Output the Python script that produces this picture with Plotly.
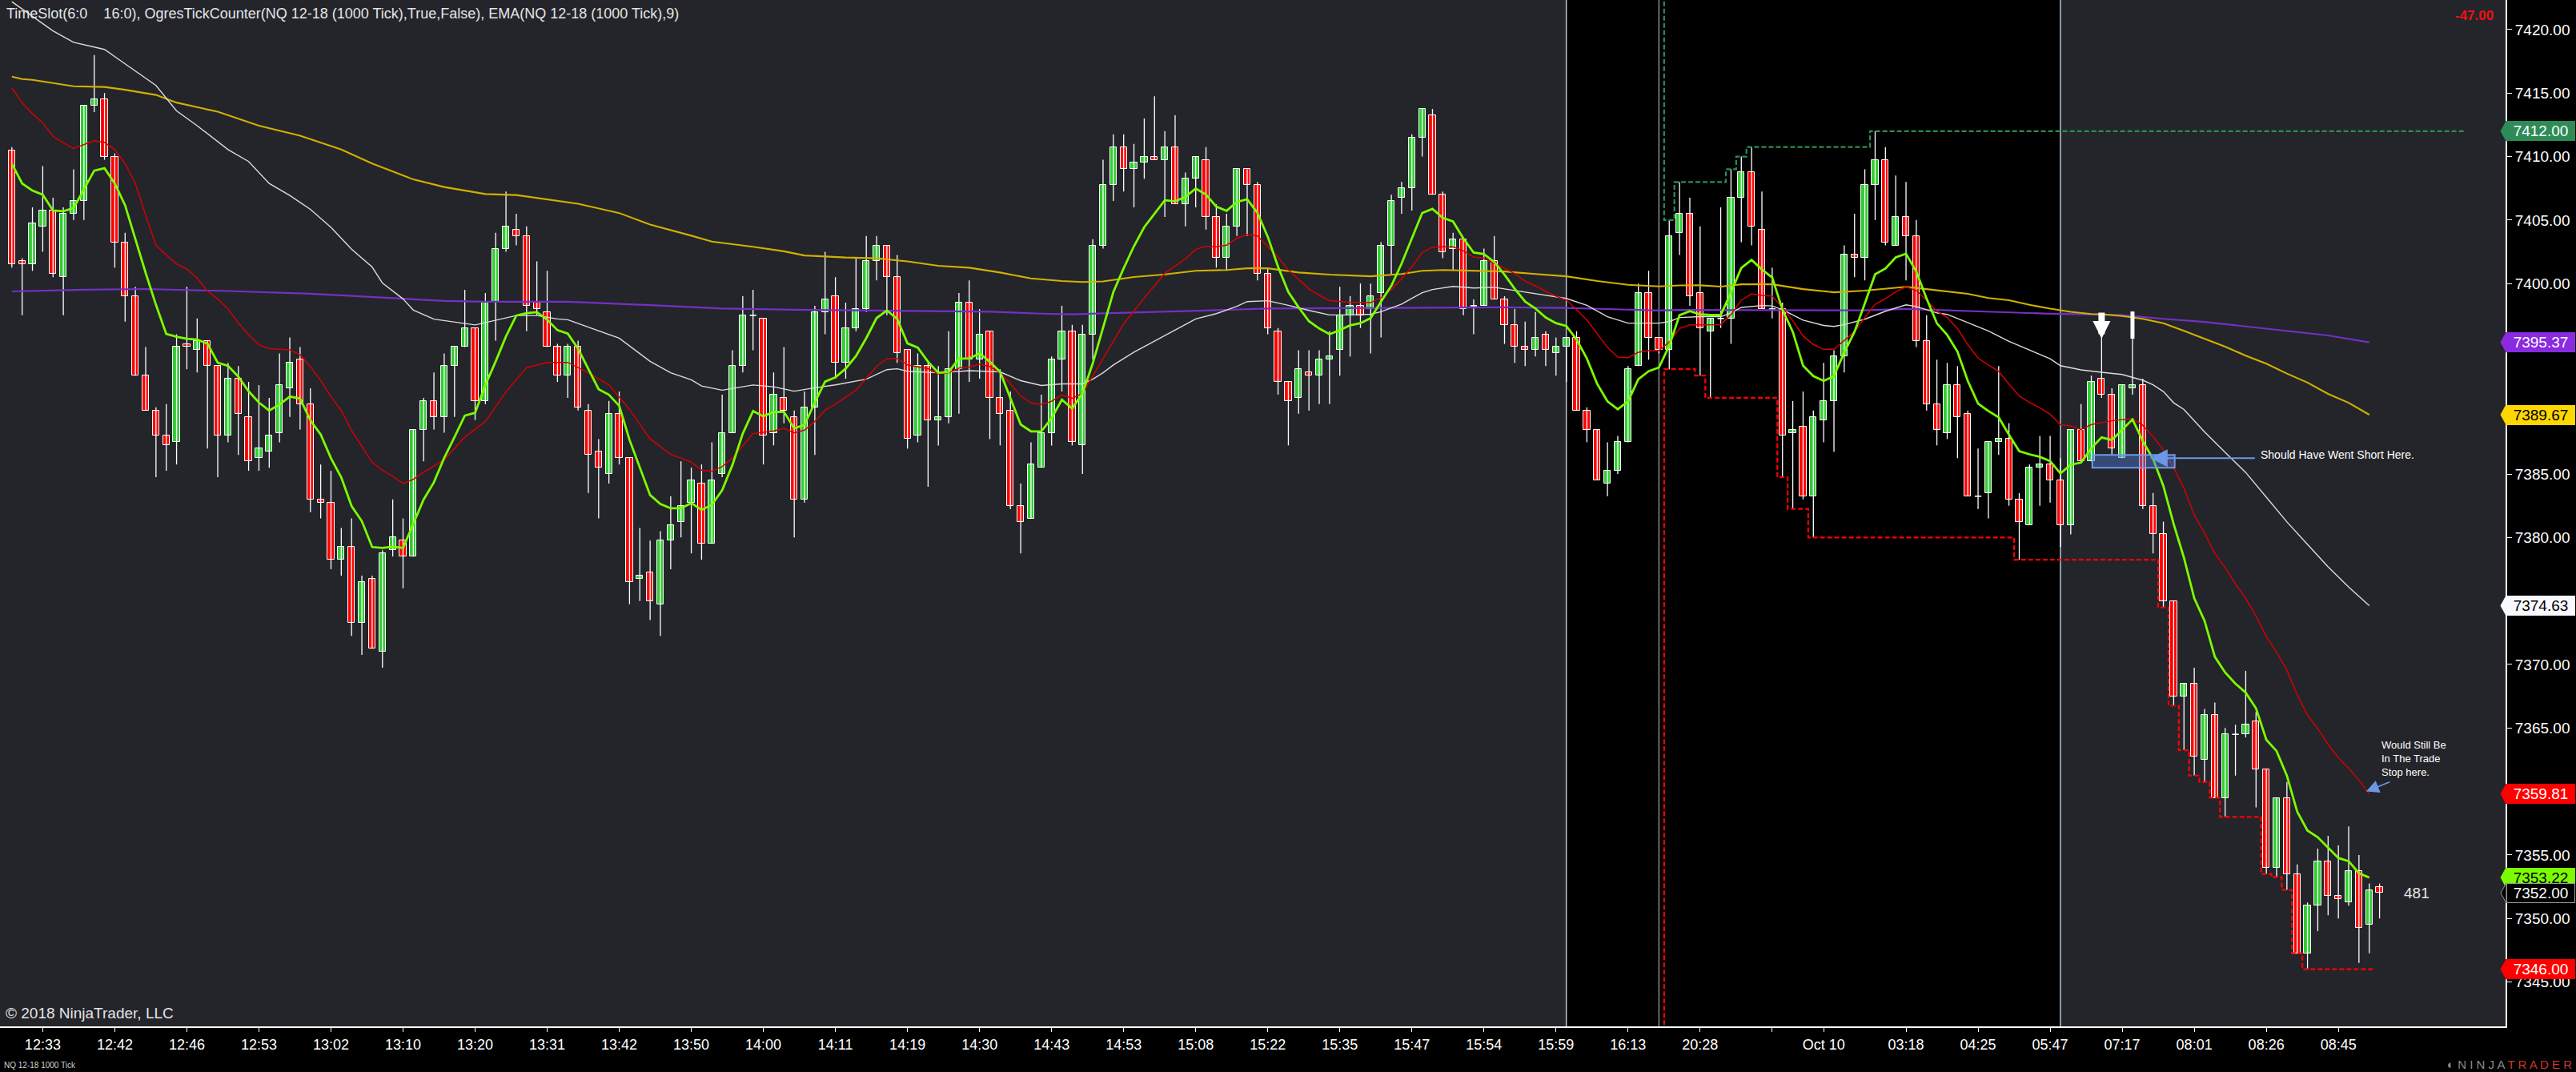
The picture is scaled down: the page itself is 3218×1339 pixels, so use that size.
import plotly.graph_objects as go

# ---------------- DATA ----------------
bar_open = [
    7410.5, 7401.75, 7401.5, 7404.5, 7405.75, 7400.5, 7405.5, 7406.5, 7414, 7414.5,
    7410, 7403.25, 7399, 7392.75, 7390, 7388, 7387.5, 7395.25, 7394.75, 7395.5,
    7393.5, 7388, 7392.5, 7389.5, 7386.25, 7386.75, 7388.25, 7391.75, 7394, 7390.5,
    7383, 7382.75, 7378.25, 7379.25, 7373.25, 7376.75, 7371, 7379, 7379.75, 7378.5,
    7388.5, 7390.75, 7389.5, 7393.5, 7395, 7396.5, 7390.75, 7398.5, 7402.75, 7404.25,
    7403.75, 7398.5, 7397.75, 7395, 7392.75, 7395, 7390, 7386.75, 7385, 7389.75,
    7386.25, 7376.75, 7377.25, 7374.75, 7379.75, 7381.25, 7382.75, 7384.25, 7379.5, 7385,
    7388.25, 7393.5, 7397.5, 7397.25, 7388.25, 7391, 7389.5, 7383, 7390.25, 7397.75,
    7399, 7393.75, 7396.5, 7398, 7401.75, 7403, 7400.5, 7394.75, 7388, 7393.5,
    7389.25, 7389.5, 7393.25, 7398.5, 7394, 7396.25, 7391, 7390, 7382.5, 7381.5,
    7385.5, 7388.25, 7394, 7396.25, 7387.25, 7396, 7403, 7407.75, 7410.75, 7409,
    7409.5, 7410, 7409.75, 7410.75, 7406.25, 7408.25, 7409.75, 7405.25, 7402, 7404.5,
    7409, 7407.75, 7400.75, 7396.25, 7392.25, 7391, 7393, 7392.75, 7394, 7394.75,
    7397.5, 7398.25, 7398, 7399.25, 7403, 7406.75, 7407.5, 7411.5, 7413.25, 7407,
    7402.75, 7403.5, 7398.25, 7398.25, 7401.75, 7398.75, 7396.75, 7395, 7394.75, 7396,
    7394.5, 7395, 7395.75, 7390, 7388.5, 7384.25, 7385.25, 7387.5, 7393.5, 7399.25,
    7395.75, 7394.75, 7404, 7405.5, 7399.25, 7396.25, 7397.25, 7397.25, 7406.75, 7408.75,
    7404.25, 7398, 7398, 7388.25, 7388.75, 7383.25, 7389.25, 7390.75, 7394.25, 7402.25,
    7402, 7407.75, 7409.75, 7403, 7405.25, 7403.75, 7395.5, 7390.5, 7388.25, 7392,
    7389.75, 7383.25, 7383.5, 7387.5, 7387.75, 7383, 7381, 7385.5, 7385.75, 7384.5,
    7381, 7388.5, 7386, 7392.5, 7391.25, 7386.25, 7391.75, 7392, 7382.5, 7380.25,
    7375, 7367.5, 7368.5, 7362.5, 7366, 7359.5, 7364.5, 7364.5, 7365.5, 7361.75,
    7354, 7359.5, 7353.5, 7347.25, 7351, 7354.5, 7351.75, 7351.25, 7353.75, 7349.5,
    7352.5,
]
bar_high = [
    7410.75, 7402, 7406, 7409.25, 7406.75, 7406, 7409, 7414, 7418, 7415,
    7410.25, 7404, 7399.75, 7395, 7390.25, 7390.5, 7396, 7399.75, 7397.25, 7395.5,
    7393.5, 7393.75, 7393.5, 7392.25, 7392, 7391, 7394.5, 7395.75, 7395, 7391.75,
    7385.75, 7385.25, 7380.75, 7381.5, 7377, 7377, 7379, 7383, 7381.5, 7388.5,
    7391, 7393, 7394.5, 7395, 7399.5, 7396.5, 7399.25, 7404, 7407.25, 7405.5,
    7404.5, 7401.75, 7401, 7395.25, 7395.25, 7395.5, 7390.5, 7387.75, 7390.75, 7391.5,
    7386.25, 7380.75, 7379.75, 7380.5, 7383.25, 7386, 7385.5, 7385.75, 7387.5, 7391.25,
    7394.75, 7399, 7399.5, 7397.25, 7393, 7395, 7390, 7391.5, 7398.25, 7402.5,
    7400.5, 7398.5, 7402, 7403.75, 7403.75, 7403, 7402.25, 7394.75, 7394.5, 7393.75,
    7393.5, 7396.25, 7399.25, 7400.25, 7398, 7396.25, 7393.25, 7391.5, 7384.25, 7387.5,
    7391.25, 7394.25, 7398.25, 7396.75, 7396.75, 7403.5, 7409.75, 7411.75, 7411.75, 7411,
    7413, 7414.75, 7412, 7413.25, 7408.75, 7410, 7410.75, 7406.25, 7405.5, 7409,
    7409, 7408, 7401.25, 7396.5, 7392.25, 7394.75, 7394.75, 7394.75, 7396.25, 7399.75,
    7399, 7400, 7400, 7403.25, 7407, 7408, 7411.75, 7413.75, 7413.75, 7407.25,
    7404, 7403.5, 7398.75, 7402.75, 7403.75, 7399, 7398, 7397, 7397.75, 7396.25,
    7395.75, 7395.75, 7396.25, 7390.25, 7388.5, 7387.5, 7388, 7393.5, 7400, 7401,
    7395.75, 7405, 7408, 7406.75, 7404.5, 7397.25, 7406, 7409, 7410, 7410.75,
    7407.25, 7401.25, 7398.5, 7390.75, 7391.5, 7390, 7393.75, 7394.75, 7403, 7405.5,
    7409, 7412, 7410.75, 7408.5, 7408, 7405, 7397.5, 7394, 7393.75, 7393.5,
    7390, 7387, 7387.5, 7393.5, 7389, 7383.5, 7385.75, 7388, 7388, 7386.25,
    7388.5, 7390.5, 7392.75, 7395.75, 7391.75, 7392, 7395.75, 7392.5, 7383.5, 7381.25,
    7375, 7368.5, 7369.75, 7366.5, 7367, 7365, 7365.25, 7369.5, 7366.25, 7361.75,
    7359.5, 7360.75, 7354.25, 7351.25, 7355.5, 7356.5, 7355.75, 7357.25, 7355, 7352.75,
    7352.75,
]
bar_low = [
    7401.25, 7397.5, 7401, 7402.5, 7400.5, 7397.5, 7405, 7405, 7413.5, 7409.75,
    7401.25, 7397, 7392.75, 7390, 7384.75, 7385.25, 7385.75, 7393.25, 7393, 7387,
    7384.75, 7387.5, 7386.5, 7385.25, 7385.25, 7385.5, 7387.5, 7389.5, 7388.5, 7382,
    7381.5, 7377.5, 7377, 7372.25, 7370.75, 7371.25, 7369.75, 7378.5, 7376, 7378.5,
    7386, 7388.5, 7388.25, 7389.5, 7395, 7389.25, 7390.5, 7395.5, 7402.5, 7403,
    7396.25, 7397.5, 7395, 7392.25, 7391, 7390, 7383.5, 7381.5, 7384.25, 7385.75,
    7374.75, 7375, 7373.5, 7372.25, 7377.5, 7380, 7378.75, 7378.25, 7379.5, 7384.75,
    7388.25, 7393, 7394.75, 7385.75, 7387.25, 7389, 7380, 7382.75, 7386.5, 7396,
    7392.5, 7392.5, 7396.25, 7397.75, 7400.25, 7397.5, 7393.75, 7387, 7387.5, 7384,
    7387.25, 7389, 7389.75, 7392.25, 7392.5, 7387.75, 7387.25, 7382.25, 7378.75, 7381.5,
    7385.5, 7387.25, 7391.5, 7387.25, 7385, 7394, 7402.75, 7406.5, 7407.25, 7406,
    7408.25, 7409.75, 7405.25, 7406.25, 7404.5, 7406, 7404.25, 7401.25, 7401, 7403.75,
    7403.75, 7400.25, 7396, 7391.25, 7387.25, 7389.75, 7390, 7390.5, 7390.5, 7392.75,
    7394.25, 7396.5, 7394.5, 7395.75, 7400.75, 7405.5, 7405.75, 7410, 7407, 7402,
    7401, 7397.5, 7396, 7398.25, 7398.75, 7395.25, 7393.75, 7393.5, 7394.25, 7393.5,
    7392.75, 7392.25, 7390, 7387.5, 7384.5, 7383.25, 7385, 7387.5, 7393.5, 7394,
    7394.5, 7393.25, 7402.25, 7398.25, 7392.75, 7391, 7396.5, 7395.25, 7403.25, 7403,
    7398, 7397.25, 7384.75, 7382.25, 7383, 7380, 7387.5, 7386.75, 7393, 7400.5,
    7400.25, 7405, 7403, 7403, 7400.25, 7395, 7390, 7387.25, 7387.75, 7386.25,
    7383.25, 7382.25, 7381.5, 7386.5, 7382.5, 7378.25, 7381, 7382.5, 7382.75, 7379.25,
    7380.25, 7386, 7386, 7391, 7386.5, 7386.25, 7391.25, 7382.25, 7378.75, 7374.5,
    7366.75, 7363.25, 7361.25, 7360.75, 7359.5, 7358, 7361.25, 7364.25, 7358.75, 7353.5,
    7353.25, 7352.25, 7347.25, 7346, 7349, 7350.25, 7350, 7351, 7346.5, 7347.25,
    7350,
]
bar_close = [
    7401.5, 7401.5, 7404.75, 7405.75, 7400.75, 7405.5, 7406.5, 7414, 7414.5, 7410,
    7403.25, 7399, 7392.75, 7390, 7388, 7387.25, 7395, 7395, 7395.5, 7393.5,
    7388, 7392.5, 7389.75, 7386, 7387, 7388, 7392, 7393.75, 7390.5, 7383,
    7382.75, 7378.25, 7379.25, 7373.25, 7376.5, 7371.25, 7378.75, 7380, 7378.5, 7388.5,
    7390.75, 7389.5, 7393.5, 7395, 7396.5, 7390.75, 7398.5, 7402.75, 7404.5, 7403.75,
    7398.25, 7398, 7395, 7392.75, 7395, 7390.25, 7386.5, 7385.5, 7389.75, 7386.25,
    7376.5, 7377, 7375, 7379.75, 7381, 7382.5, 7384.5, 7379.5, 7384.5, 7388.25,
    7393.5, 7397.5, 7397.5, 7388, 7391.25, 7390, 7383, 7390.25, 7397.75, 7398.75,
    7393.75, 7396.5, 7398, 7401.75, 7403, 7400.5, 7394.5, 7387.75, 7393.5, 7389.25,
    7389.5, 7393.25, 7398.5, 7394, 7396, 7391, 7389.75, 7382.5, 7381.25, 7385.75,
    7388.25, 7394, 7396.25, 7387.5, 7396, 7403, 7407.75, 7410.75, 7409, 7409.5,
    7410, 7409.75, 7410.75, 7406.25, 7408.25, 7410, 7405.25, 7402, 7404.5, 7409,
    7407.75, 7400.75, 7396.5, 7392.25, 7390.75, 7393.25, 7392.75, 7394, 7394.25, 7397.5,
    7398.25, 7397.5, 7399, 7403, 7406.5, 7407.5, 7411.5, 7413.75, 7407, 7402.5,
    7403.5, 7398, 7398.25, 7401.75, 7398.75, 7396.75, 7395, 7394.75, 7395.75, 7394.75,
    7395, 7395.75, 7390, 7388.5, 7384.5, 7385.25, 7387.5, 7393.25, 7399.25, 7395.75,
    7394.75, 7403.75, 7405.5, 7399, 7396.5, 7397.25, 7397.25, 7406.75, 7408.75, 7404.5,
    7398, 7398, 7388, 7388.5, 7383.25, 7389.5, 7390.75, 7394.25, 7402.25, 7402,
    7407.75, 7409.75, 7403.25, 7405.25, 7403.75, 7395.5, 7390.5, 7388.5, 7392, 7389.5,
    7383.25, 7383.25, 7387.5, 7387.75, 7383, 7381.25, 7385.5, 7385.75, 7384.5, 7381,
    7388.5, 7386, 7392.25, 7391.25, 7387, 7392, 7392, 7382.5, 7380.25, 7375,
    7367.5, 7368.5, 7362.75, 7366, 7359.5, 7364.5, 7364.5, 7365.25, 7361.75, 7354,
    7359.5, 7353.5, 7347.25, 7351, 7354.5, 7351.75, 7351.5, 7353.75, 7349.25, 7352.25,
    7352,
]

# EMA(9) - lime, one value per closed bar (bars 0..229)
ema9_vals = [
    7409.45, 7407.88, 7407.32, 7407.0, 7405.75, 7405.69, 7405.94, 7407.41, 7408.89, 7409.08,
    7407.88, 7406.16, 7403.49, 7400.83, 7398.32, 7396.03, 7395.81, 7395.65, 7395.59, 7395.27,
    7393.77, 7393.52, 7392.67, 7391.51, 7390.63, 7390.0, 7390.47, 7391.1, 7390.94, 7389.22,
    7388.12, 7386.24, 7384.73, 7382.48, 7381.28, 7379.25, 7379.18, 7379.28, 7379.18, 7381.06,
    7382.99, 7384.35, 7386.27, 7387.91, 7389.6, 7389.82, 7392.01, 7393.87, 7395.84, 7397.48,
    7397.67, 7397.75, 7397.15, 7396.33, 7396.06, 7394.88, 7393.24, 7391.68, 7391.24, 7390.37,
    7387.69, 7385.5, 7383.34, 7382.63, 7382.3, 7382.3, 7382.71, 7382.17, 7382.58, 7383.72,
    7385.72, 7388.18, 7389.96, 7389.55, 7389.88, 7389.9, 7388.59, 7388.87, 7390.64, 7392.28,
    7392.61, 7393.3, 7394.29, 7395.71, 7397.28, 7397.88, 7397.21, 7395.29, 7394.96, 7393.84,
    7392.97, 7393.04, 7394.09, 7394.09, 7394.51, 7393.84, 7393.04, 7390.97, 7388.9, 7388.36,
    7388.36, 7389.4, 7390.85, 7390.15, 7391.35, 7393.72, 7396.58, 7399.33, 7401.2, 7402.94,
    7404.44, 7405.51, 7406.56, 7406.48, 7406.81, 7407.48, 7407.0, 7406.06, 7405.73, 7406.43,
    7406.64, 7405.56, 7403.69, 7401.32, 7399.33, 7398.13, 7397.03, 7396.46, 7396.01, 7396.33,
    7396.71, 7396.88, 7397.28, 7398.58, 7399.82, 7401.57, 7403.56, 7405.56, 7405.88, 7405.18,
    7404.88, 7403.56, 7402.44, 7402.32, 7401.7, 7400.7, 7399.58, 7398.58, 7398.03, 7397.33,
    7396.88, 7396.66, 7395.59, 7394.09, 7392.1, 7390.72, 7390.1, 7390.72, 7392.47, 7393.09,
    7393.39, 7395.1, 7397.51, 7397.82, 7397.57, 7397.52, 7397.52, 7399.31, 7401.23, 7401.86,
    7401.11, 7400.48, 7397.94, 7396.2, 7393.53, 7392.71, 7392.33, 7392.71, 7394.58, 7396.2,
    7398.44, 7400.73, 7401.18, 7402.06, 7402.35, 7400.93, 7398.81, 7396.87, 7395.95, 7394.63,
    7392.33, 7390.54, 7389.96, 7389.46, 7388.09, 7386.8, 7386.55, 7386.35, 7386.02, 7385.05,
    7385.73, 7385.9, 7387.03, 7387.88, 7387.67, 7388.48, 7389.3, 7387.6, 7386.18, 7384.06,
    7381.05, 7378.4, 7375.21, 7373.44, 7370.61, 7369.37, 7368.49, 7367.78, 7366.54, 7364.07,
    7363.18, 7361.24, 7358.41, 7356.92, 7356.39, 7355.57, 7354.76, 7354.51, 7353.56, 7353.22,
]

# red moving average (sampled bars / values)
red_bars = [0, 1, 2, 3, 4, 5, 6, 7, 8, 9, 10, 11, 12, 13, 14, 15, 16, 17, 18, 19, 20, 21, 22, 23, 24,
            25, 26, 27, 28, 29, 30, 31, 32, 33, 34, 35, 36, 37, 38, 39, 40, 41, 42, 44, 46, 48, 50, 52,
            54, 56, 58, 60, 62, 64, 66, 67, 68, 69, 70, 71, 72, 74, 75, 76, 77, 78, 79, 80, 81, 82, 84,
            85, 86, 87, 89, 90, 91, 92, 93, 94, 95, 96, 97, 98, 99, 100, 101, 102, 103, 104, 105, 106,
            107, 108, 109, 110, 111, 112, 113, 114, 115, 116, 117, 118, 119, 120, 121, 123, 124, 126,
            127, 128, 130, 132, 133, 134, 135, 136, 137, 138, 139, 140, 141, 142, 143, 144, 145, 146,
            147, 148, 149, 150, 151, 152, 153, 154, 155, 156, 157, 158, 159, 160, 161, 162, 163, 164,
            166, 167, 168, 169, 170, 171, 172, 173, 174, 175, 176, 177, 178, 179, 180, 181, 182, 183,
            184, 185, 186, 187, 188, 189, 190, 191, 192, 193, 194, 195, 196, 197, 198, 199, 200, 201,
            202, 204, 206, 207, 208, 209, 210, 211, 212, 213, 214, 215, 216, 217, 218, 219, 220, 221,
            222, 223, 224, 225, 226, 227, 228, 229]
red_vals = [7415.41, 7414.22, 7413.37, 7412.65, 7411.59, 7411.08, 7410.64, 7410.93, 7411.24, 7411.12,
            7410.55, 7409.45, 7407.88, 7405.37, 7403.02, 7402.24, 7401.55, 7401.14, 7400.42, 7399.41,
            7398.79, 7398.0, 7396.9, 7395.96, 7395.18, 7394.87, 7394.8, 7394.77, 7394.39, 7393.46,
            7392.36, 7391.1, 7390.0, 7388.43, 7387.18, 7385.93, 7385.3, 7384.83, 7384.26, 7384.58,
            7385.14, 7385.61, 7386.13, 7387.91, 7389.14, 7391.46, 7393.38, 7393.79, 7393.79, 7392.97,
            7392.01, 7390.09, 7387.77, 7386.54, 7385.94, 7385.31, 7385.23, 7385.58, 7386.27, 7387.22,
            7388.18, 7388.4, 7388.59, 7388.24, 7388.45, 7389.14, 7390.04, 7390.5, 7391.05, 7391.6,
            7393.47, 7394.09, 7394.09, 7393.59, 7393.29, 7392.89, 7392.97, 7393.34, 7393.42, 7393.64,
            7393.47, 7392.97, 7392.1, 7391.15, 7390.6, 7390.48, 7390.73, 7391.22, 7390.97, 7391.35,
            7392.72, 7394.09, 7395.46, 7396.83, 7397.83, 7398.88, 7399.82, 7400.82, 7401.37, 7401.94,
            7402.69, 7402.94, 7402.89, 7403.02, 7403.57, 7403.86, 7403.75, 7402.07, 7401.07, 7399.58,
            7399.08, 7398.65, 7398.53, 7398.5, 7398.88, 7399.53, 7400.37, 7401.32, 7402.44, 7402.87,
            7402.89, 7402.89, 7402.57, 7402.07, 7402.02, 7401.57, 7401.2, 7400.77, 7400.2, 7399.82,
            7399.38, 7399.0, 7398.7, 7397.95, 7397.13, 7396.08, 7394.96, 7394.21, 7394.17, 7394.59,
            7394.71, 7394.71, 7395.4, 7396.46, 7396.75, 7396.75, 7396.77, 7397.57, 7398.69, 7399.19,
            7399.06, 7399.01, 7398.12, 7397.07, 7395.87, 7395.2, 7394.82, 7394.82, 7395.52, 7396.2,
            7397.32, 7398.37, 7398.81, 7399.36, 7399.76, 7399.44, 7398.69, 7397.82, 7397.32, 7396.45,
            7395.2, 7394.13, 7393.58, 7393.08, 7392.08, 7391.14, 7390.64, 7390.21, 7389.71, 7388.89,
            7388.79, 7388.5, 7388.9, 7389.19, 7389.37, 7388.84, 7387.95, 7386.89, 7385.48, 7383.88,
            7381.76, 7380.34, 7378.75, 7377.62, 7376.35, 7375.21, 7373.8, 7372.21, 7370.97, 7369.55,
            7367.61, 7366.01, 7364.95, 7363.71, 7362.65, 7361.84, 7360.88, 7359.81]

# white moving average
white_bars = [0, 4, 6, 9, 11, 14, 16, 18, 21, 23, 25, 27, 29, 31, 33, 35, 36, 38, 39, 41, 45, 47, 49,
              51, 53, 54, 57, 59, 62, 64, 66, 67, 69, 72, 74, 76, 78, 80, 83, 85, 86, 87, 90, 93, 96,
              98, 100, 102, 104, 105, 106, 107, 109, 111, 113, 115, 117, 119, 120, 122, 124, 126, 128,
              130, 132, 133, 134, 135, 136, 137, 138, 140, 142, 144, 146, 148, 150, 151, 153, 155, 157,
              159, 160, 161, 162, 164, 166, 167, 168, 170, 171, 172, 174, 176, 177, 178, 180, 182, 184,
              185, 187, 188, 190, 192, 194, 196, 198, 199, 201, 203, 205, 207, 208, 209, 210, 211, 213,
              215, 217, 219, 221, 223, 225, 227, 229]
white_vals = [7422.2, 7419.9, 7419.0, 7418.44, 7417.3, 7415.6, 7413.6, 7412.43, 7410.55, 7409.61,
              7407.88, 7406.94, 7405.84, 7404.43, 7402.7, 7401.3, 7400.04, 7398.79, 7397.91, 7397.2,
              7396.74, 7397.12, 7397.48, 7397.48, 7397.21, 7397.15, 7396.25, 7395.7, 7393.87, 7392.97,
              7392.42, 7391.93, 7391.6, 7392.01, 7391.87, 7391.52, 7391.79, 7392.02, 7392.47, 7393.22,
              7393.29, 7393.09, 7392.97, 7393.14, 7393.04, 7392.35, 7391.97, 7392.1, 7392.1, 7392.47,
              7392.97, 7393.59, 7394.59, 7395.46, 7396.33, 7397.21, 7397.63, 7398.2, 7398.58, 7398.65,
              7398.28, 7397.88, 7397.53, 7397.53, 7397.58, 7397.78, 7398.08, 7398.38, 7398.83, 7399.28,
              7399.53, 7399.77, 7399.65, 7399.7, 7399.45, 7399.2, 7398.95, 7398.83, 7398.28, 7397.38,
              7396.88, 7396.91, 7396.88, 7397.0, 7397.32, 7397.39, 7397.39, 7397.69, 7398.12, 7398.27,
              7398.24, 7397.94, 7397.12, 7396.7, 7396.62, 7396.77, 7397.19, 7397.82, 7398.32, 7398.19,
              7397.69, 7397.57, 7396.94, 7396.27, 7395.45, 7394.75, 7394.08, 7393.53, 7393.2, 7393.01,
              7392.84, 7392.38, 7392.02, 7391.49, 7390.61, 7390.08, 7388.31, 7386.71, 7385.12, 7383.18,
              7381.23, 7379.46, 7377.69, 7376.1, 7374.63]

# gold moving average
gold_bars = [0, 1, 2, 6, 9, 11, 14, 16, 20, 24, 28, 32, 35, 39, 42, 46, 49, 52, 55, 59, 62, 66, 68, 72,
             75, 77, 79, 81, 84, 87, 90, 93, 96, 99, 102, 104, 106, 109, 112, 115, 118, 120, 122, 125,
             128, 132, 135, 137, 139, 142, 145, 148, 151, 154, 157, 160, 162, 164, 166, 168, 171, 174,
             177, 180, 182, 184, 186, 188, 190, 192, 194, 196, 198, 200, 202, 203, 205, 207, 209, 211,
             213, 215, 217, 219, 221, 223, 225, 227, 229]
gold_vals = [7416.29, 7416.1, 7416.04, 7415.54, 7415.48, 7415.26, 7414.85, 7414.25, 7413.53, 7412.43,
             7411.65, 7410.55, 7409.45, 7408.2, 7407.6, 7407.05, 7406.97, 7406.64, 7406.28, 7405.55,
             7404.64, 7403.77, 7403.3, 7402.89, 7402.54, 7402.21, 7402.13, 7402.05, 7401.99, 7401.74,
             7401.4, 7401.25, 7400.87, 7400.4, 7400.2, 7400.12, 7400.17, 7400.52, 7400.72, 7401.0,
             7401.07, 7401.2, 7401.2, 7400.87, 7400.7, 7400.57, 7400.75, 7401.0, 7401.07, 7401.0,
             7400.95, 7400.75, 7400.57, 7400.2, 7399.9, 7399.77, 7399.85, 7399.86, 7399.76, 7399.94,
             7399.94, 7399.56, 7399.31, 7399.44, 7399.61, 7399.74, 7399.56, 7399.39, 7399.19, 7398.86,
             7398.69, 7398.32, 7398.02, 7397.77, 7397.6, 7397.58, 7397.44, 7397.22, 7396.87, 7396.27,
             7395.63, 7395.03, 7394.32, 7393.69, 7392.91, 7392.2, 7391.31, 7390.61, 7389.67]

# purple moving average
purple_bars = [0, 7, 13, 21, 29, 35, 42, 46, 54, 62, 69, 76, 81, 87, 95, 100, 103, 106, 111, 116, 122,
               130, 138, 145, 151, 156, 160, 162, 170, 180, 184, 188, 194, 198, 202, 205, 209, 213, 217,
               221, 225, 229]
purple_vals = [7399.38, 7399.51, 7399.57, 7399.41, 7399.2, 7398.94, 7398.63, 7398.57, 7398.57, 7398.3,
               7398.03, 7397.94, 7397.89, 7397.83, 7397.78, 7397.63, 7397.58, 7397.66, 7397.76, 7397.88,
               7398.03, 7398.08, 7398.13, 7398.13, 7398.08, 7397.95, 7397.88, 7397.92, 7397.89, 7397.89,
               7398.0, 7397.89, 7397.74, 7397.62, 7397.57, 7397.51, 7397.22, 7396.98, 7396.62, 7396.27,
               7395.91, 7395.37]

# session high / low step lines (bar where a new extreme starts, level)
hi_step_bars = [161, 162, 167, 168, 169, 181]
hi_step_vals = [7405, 7408, 7409, 7410, 7410.75, 7412]
hi_end_bar = 238.2
lo_step_bars = [161, 164, 165, 172, 173, 175, 195, 209, 210, 211, 212, 213, 214, 215, 219, 220, 221, 222, 223]
lo_step_vals = [7393.25, 7392.75, 7391, 7384.75, 7382.25, 7380, 7378.25, 7374.5, 7366.75, 7363.25,
                7361.25, 7360.75, 7359.5, 7358, 7353.5, 7353.25, 7352.25, 7347.25, 7346]
lo_end_bar = 229.5

# time slot (outside 6:00-16:00) and session break
slot_out_start = 151
slot_out_end = 199
session_break_bar = 160

# time axis
tick_bars = [3, 10, 17, 24, 31, 38, 45, 52, 59, 66, 73, 80, 87, 94, 101, 108, 115, 122, 129, 136,
             143, 150, 157, 164, 171, 176, 184, 191, 198, 205, 212, 219, 226]
tick_labels = ["12:33", "12:42", "12:46", "12:53", "13:02", "13:10", "13:20", "13:31", "13:42", "13:50",
               "14:00", "14:11", "14:19", "14:30", "14:43", "14:53", "15:08", "15:22", "15:35", "15:47",
               "15:54", "15:59", "16:13", "20:28", "", "Oct 10", "03:18", "04:25", "05:47", "07:17",
               "08:01", "08:26", "08:45"]
price_ticks = [7345, 7350, 7355, 7360, 7365, 7370, 7375, 7380, 7385, 7390, 7395, 7400, 7405, 7410, 7415, 7420]

# right-axis price markers
tag_vals = [7412.00, 7395.37, 7389.67, 7374.63, 7359.81, 7353.22, 7352.00, 7346.00]
tag_bg = ["#2e8b57", "#8a2be2", "#ffd700", "#f8f8ff", "#ff0000", "#7cfc00", "#000000", "#ff0000"]
tag_fg = ["#ffffff", "#ffffff", "#000000", "#000000", "#ffffff", "#000000", "#ffffff", "#ffffff"]
tag_border = ["#2e8b57", "#8a2be2", "#ffd700", "#f8f8ff", "#ff0000", "#7cfc00", "#9a9a9a", "#ff0000"]

# drawings
short_box = dict(x0=202.1, x1=210.1, y0=7385.5, y1=7386.5)
short_arrow = dict(tail_x=218.0, tip_x=207.7, y=7386.25)
short_text = dict(x=218.3, y=7386.5, text="Should Have Went Short Here.")
down_arrow_bars = [203, 206]
down_arrow_head = [True, False]
down_arrow_top = 7397.8
down_arrow_tip = 7395.66
stop_text = dict(x=230.0, y=7362.6, text="Would Still Be<br>In The Trade<br>Stop here.")
stop_arrow = dict(tail_x=231.1, tail_y=7360.78, tip_x=228.7, tip_y=7360.0)
tick_count = dict(x=232.2, y=7352.0, text="481")
pnl_text = "-47.00"

# ---------------- FIGURE ----------------
FONT = "Liberation Sans, Arial, Helvetica, sans-serif"
W, H = 3218, 1339
ML, MR, MT, MB = 0, 88, 0, 57
PW = W - ML - MR
PH = H - MT - MB
Y0, Y1 = 7341.5, 7422.33
X0, X1 = -1.152, 242.24
PPU = PH / (Y1 - Y0)  # pixels per price unit

n = len(bar_open)
idx = list(range(n))
fig = go.Figure()

# wicks
wx, wy = [], []
for i in idx:
    wx += [i, i, None]
    wy += [bar_low[i], bar_high[i], None]
fig.add_trace(go.Scatter(x=wx, y=wy, mode="lines", line=dict(color="#ffffff", width=1.3),
                         hoverinfo="skip"))

BW = 0.64
up = [i for i in idx if bar_close[i] > bar_open[i]]
dn = [i for i in idx if bar_close[i] < bar_open[i]]
dj = [i for i in idx if bar_close[i] == bar_open[i]]
fig.add_trace(go.Bar(x=up, base=[bar_open[i] for i in up],
                     y=[bar_close[i] - bar_open[i] for i in up], width=BW,
                     marker=dict(color="#32cd32", line=dict(color="#ffffff", width=1)),
                     hoverinfo="skip"))
fig.add_trace(go.Bar(x=dn, base=[bar_close[i] for i in dn],
                     y=[bar_open[i] - bar_close[i] for i in dn], width=BW,
                     marker=dict(color="#ff0000", line=dict(color="#ffffff", width=1)),
                     hoverinfo="skip"))
djx, djy = [], []
for i in dj:
    djx += [i - BW / 2, i + BW / 2, None]
    djy += [bar_open[i], bar_open[i], None]
fig.add_trace(go.Scatter(x=djx, y=djy, mode="lines", line=dict(color="#ffffff", width=1.6),
                         hoverinfo="skip"))

# moving averages
fig.add_trace(go.Scatter(x=purple_bars, y=purple_vals, mode="lines",
                         line=dict(color="#7430c4", width=2.2), hoverinfo="skip"))
fig.add_trace(go.Scatter(x=gold_bars, y=gold_vals, mode="lines",
                         line=dict(color="#d2b000", width=2.1), hoverinfo="skip"))
fig.add_trace(go.Scatter(x=white_bars, y=white_vals, mode="lines",
                         line=dict(color="#dcdcdc", width=1.4), hoverinfo="skip"))
fig.add_trace(go.Scatter(x=red_bars, y=red_vals, mode="lines",
                         line=dict(color="#d40000", width=1.5), hoverinfo="skip"))
fig.add_trace(go.Scatter(x=list(range(len(ema9_vals))), y=ema9_vals, mode="lines",
                         line=dict(color="#7cfc00", width=2.8), hoverinfo="skip"))

# session high / low dashed step lines
hx = [hi_step_bars[0] - 0.5] + [b - 0.5 for b in hi_step_bars] + [hi_end_bar]
hy = [Y1 + 5] + hi_step_vals + [hi_step_vals[-1]]
fig.add_trace(go.Scatter(x=hx, y=hy, mode="lines",
                         line=dict(color="#2e8b57", width=2.2, dash="6px,3px", shape="hv"),
                         hoverinfo="skip"))
lx = [lo_step_bars[0] - 0.5] + [b - 0.5 for b in lo_step_bars] + [lo_end_bar]
ly = [Y0 - 5] + lo_step_vals + [lo_step_vals[-1]]
fig.add_trace(go.Scatter(x=lx, y=ly, mode="lines",
                         line=dict(color="#ff0000", width=2.2, dash="6px,3px", shape="hv"),
                         hoverinfo="skip"))

shapes = []
# time slot background (black) and boundary lines
shapes.append(dict(type="rect", xref="x", yref="paper", x0=slot_out_start, x1=slot_out_end, y0=0, y1=1,
                   fillcolor="#000000", line=dict(width=0), layer="below"))
for b in (slot_out_start, slot_out_end):
    shapes.append(dict(type="line", xref="x", yref="paper", x0=b, x1=b, y0=0, y1=1,
                       line=dict(color="#b8c4d4", width=1.5), layer="below"))
shapes.append(dict(type="line", xref="x", yref="paper", x0=session_break_bar, x1=session_break_bar, y0=0, y1=1,
                   line=dict(color="#8a8a8a", width=1.5), layer="below"))

# blue box
shapes.append(dict(type="rect", xref="x", yref="y", x0=short_box["x0"], x1=short_box["x1"],
                   y0=short_box["y0"], y1=short_box["y1"], fillcolor="rgba(80,120,210,0.45)",
                   line=dict(color="#6d9be8", width=2), layer="above"))

# white marker without head (narrow bar)
for b, head in zip(down_arrow_bars, down_arrow_head):
    if not head:
        shapes.append(dict(type="line", xref="x", yref="y", x0=b, x1=b,
                           y0=down_arrow_tip, y1=down_arrow_top,
                           line=dict(color="#ffffff", width=5), layer="above"))

# price tag pointers
px_tip = (PW - 6) / PW
px_base = (PW + 1) / PW
hh = 12.7 / PPU
for v, bg, bd in zip(tag_vals, tag_bg, tag_border):
    shapes.append(dict(type="path", xref="paper", yref="y",
                       path=f"M {px_tip},{v} L {px_base},{v + hh} L {px_base},{v - hh} Z",
                       fillcolor=bg, line=dict(color=bd, width=1), layer="above"))

annotations = []
annotations.append(dict(xref="paper", yref="paper", x=6 / PW, y=1 - 17 / PH, xanchor="left", yanchor="middle",
                        text="TimeSlot(6:0\u00a0\u00a0\u00a0\u00a016:0), OgresTickCounter(NQ 12-18 (1000 Tick),True,False), EMA(NQ 12-18 (1000 Tick),9)",
                        showarrow=False, font=dict(family=FONT, size=18, color="#e4e4e4")))
annotations.append(dict(xref="paper", yref="paper", x=3117 / PW, y=1 - 20 / PH, xanchor="right", yanchor="middle",
                        text=f"<b>{pnl_text}</b>", showarrow=False, font=dict(family=FONT, size=17, color="#ee1111")))
annotations.append(dict(xref="paper", yref="paper", x=5 / PW, y=1 - 1265 / PH, xanchor="left", yanchor="middle",
                        text="© 2018 NinjaTrader, LLC", showarrow=False,
                        font=dict(family=FONT, size=19, color="#e4e4e4")))
annotations.append(dict(xref="paper", yref="paper", x=3 / PW, y=1 - 1330 / PH, xanchor="left", yanchor="middle",
                        text="NQ 12-18 1000 Tick", showarrow=False,
                        font=dict(family=FONT, size=10, color="#d0d0d0")))
annotations.append(dict(xref="paper", yref="paper", x=3215 / PW, y=1 - 1329 / PH, xanchor="right", yanchor="middle",
                        text='<span style="color:#8a8a8a">◐ N I N J A </span><span style="color:#c8372a">T R A D E R</span>',
                        showarrow=False, font=dict(family=FONT, size=15, color="#9a9a9a")))

# drawings
annotations.append(dict(xref="x", yref="y", x=short_arrow["tip_x"], y=short_arrow["y"],
                        axref="x", ayref="y", ax=short_arrow["tail_x"], ay=short_arrow["y"],
                        text="", showarrow=True, arrowhead=2, arrowsize=2.2, arrowwidth=2,
                        arrowcolor="#6a98e6", standoff=0))
annotations.append(dict(xref="x", yref="y", x=short_text["x"], y=short_text["y"], xanchor="left",
                        yanchor="middle", text=short_text["text"], showarrow=False,
                        font=dict(family=FONT, size=14, color="#ffffff")))
for b, head in zip(down_arrow_bars, down_arrow_head):
    if head:
        annotations.append(dict(xref="x", yref="y", x=b, y=down_arrow_tip, axref="x", ayref="y",
                                ax=b, ay=down_arrow_top, text="", showarrow=True, arrowhead=2,
                                arrowsize=0.55, arrowwidth=8, arrowcolor="#ffffff", standoff=0))
annotations.append(dict(xref="x", yref="y", x=stop_text["x"], y=stop_text["y"], xanchor="left",
                        yanchor="middle", align="left", text=stop_text["text"], showarrow=False,
                        font=dict(family=FONT, size=13, color="#ffffff")))
annotations.append(dict(xref="x", yref="y", x=stop_arrow["tip_x"], y=stop_arrow["tip_y"],
                        axref="x", ayref="y", ax=stop_arrow["tail_x"], ay=stop_arrow["tail_y"],
                        text="", showarrow=True, arrowhead=2, arrowsize=2, arrowwidth=1.6,
                        arrowcolor="#6a98e6", standoff=0))
annotations.append(dict(xref="x", yref="y", x=tick_count["x"], y=tick_count["y"], xanchor="left",
                        yanchor="middle", text=tick_count["text"], showarrow=False,
                        font=dict(family=FONT, size=19, color="#e6e6e6")))

# price tags text boxes
for v, bg, fg, bd in zip(tag_vals, tag_bg, tag_fg, tag_border):
    annotations.append(dict(xref="paper", yref="y", x=(PW + 1) / PW, y=v, xanchor="left", yanchor="middle",
                            text=f"{v:.2f}", showarrow=False, width=84, height=23, align="center",
                            bgcolor=bg, bordercolor=bd, borderwidth=1, borderpad=0,
                            font=dict(family=FONT, size=19, color=fg)))

fig.update_layout(
    width=W, height=H, autosize=False,
    margin=dict(l=ML, r=MR, t=MT, b=MB, pad=0),
    paper_bgcolor="#000000", plot_bgcolor="#23252a",
    showlegend=False, barmode="overlay", bargap=0,
    shapes=shapes, annotations=annotations,
    xaxis=dict(range=[X0, X1], tickmode="array", tickvals=tick_bars, ticktext=tick_labels,
               showgrid=False, zeroline=False, showline=True, linecolor="#ffffff", linewidth=2,
               ticks="outside", ticklen=5, tickwidth=1, tickcolor="#ffffff", automargin=False,
               tickfont=dict(family=FONT, size=18, color="#ffffff"), fixedrange=True),
    yaxis=dict(range=[Y0, Y1], side="right", tickmode="array", tickvals=price_ticks, tickformat=".2f",
               showgrid=False, zeroline=False, showline=True, linecolor="#ffffff", linewidth=2,
               ticks="outside", ticklen=6, tickwidth=1, tickcolor="#ffffff", automargin=False,
               tickfont=dict(family=FONT, size=19, color="#ffffff"), fixedrange=True),
)

fig.write_html("out.html", config={"displayModeBar": False},
               post_script="document.body.style.margin='0';document.body.style.overflow='hidden';document.body.style.background='#000';")
